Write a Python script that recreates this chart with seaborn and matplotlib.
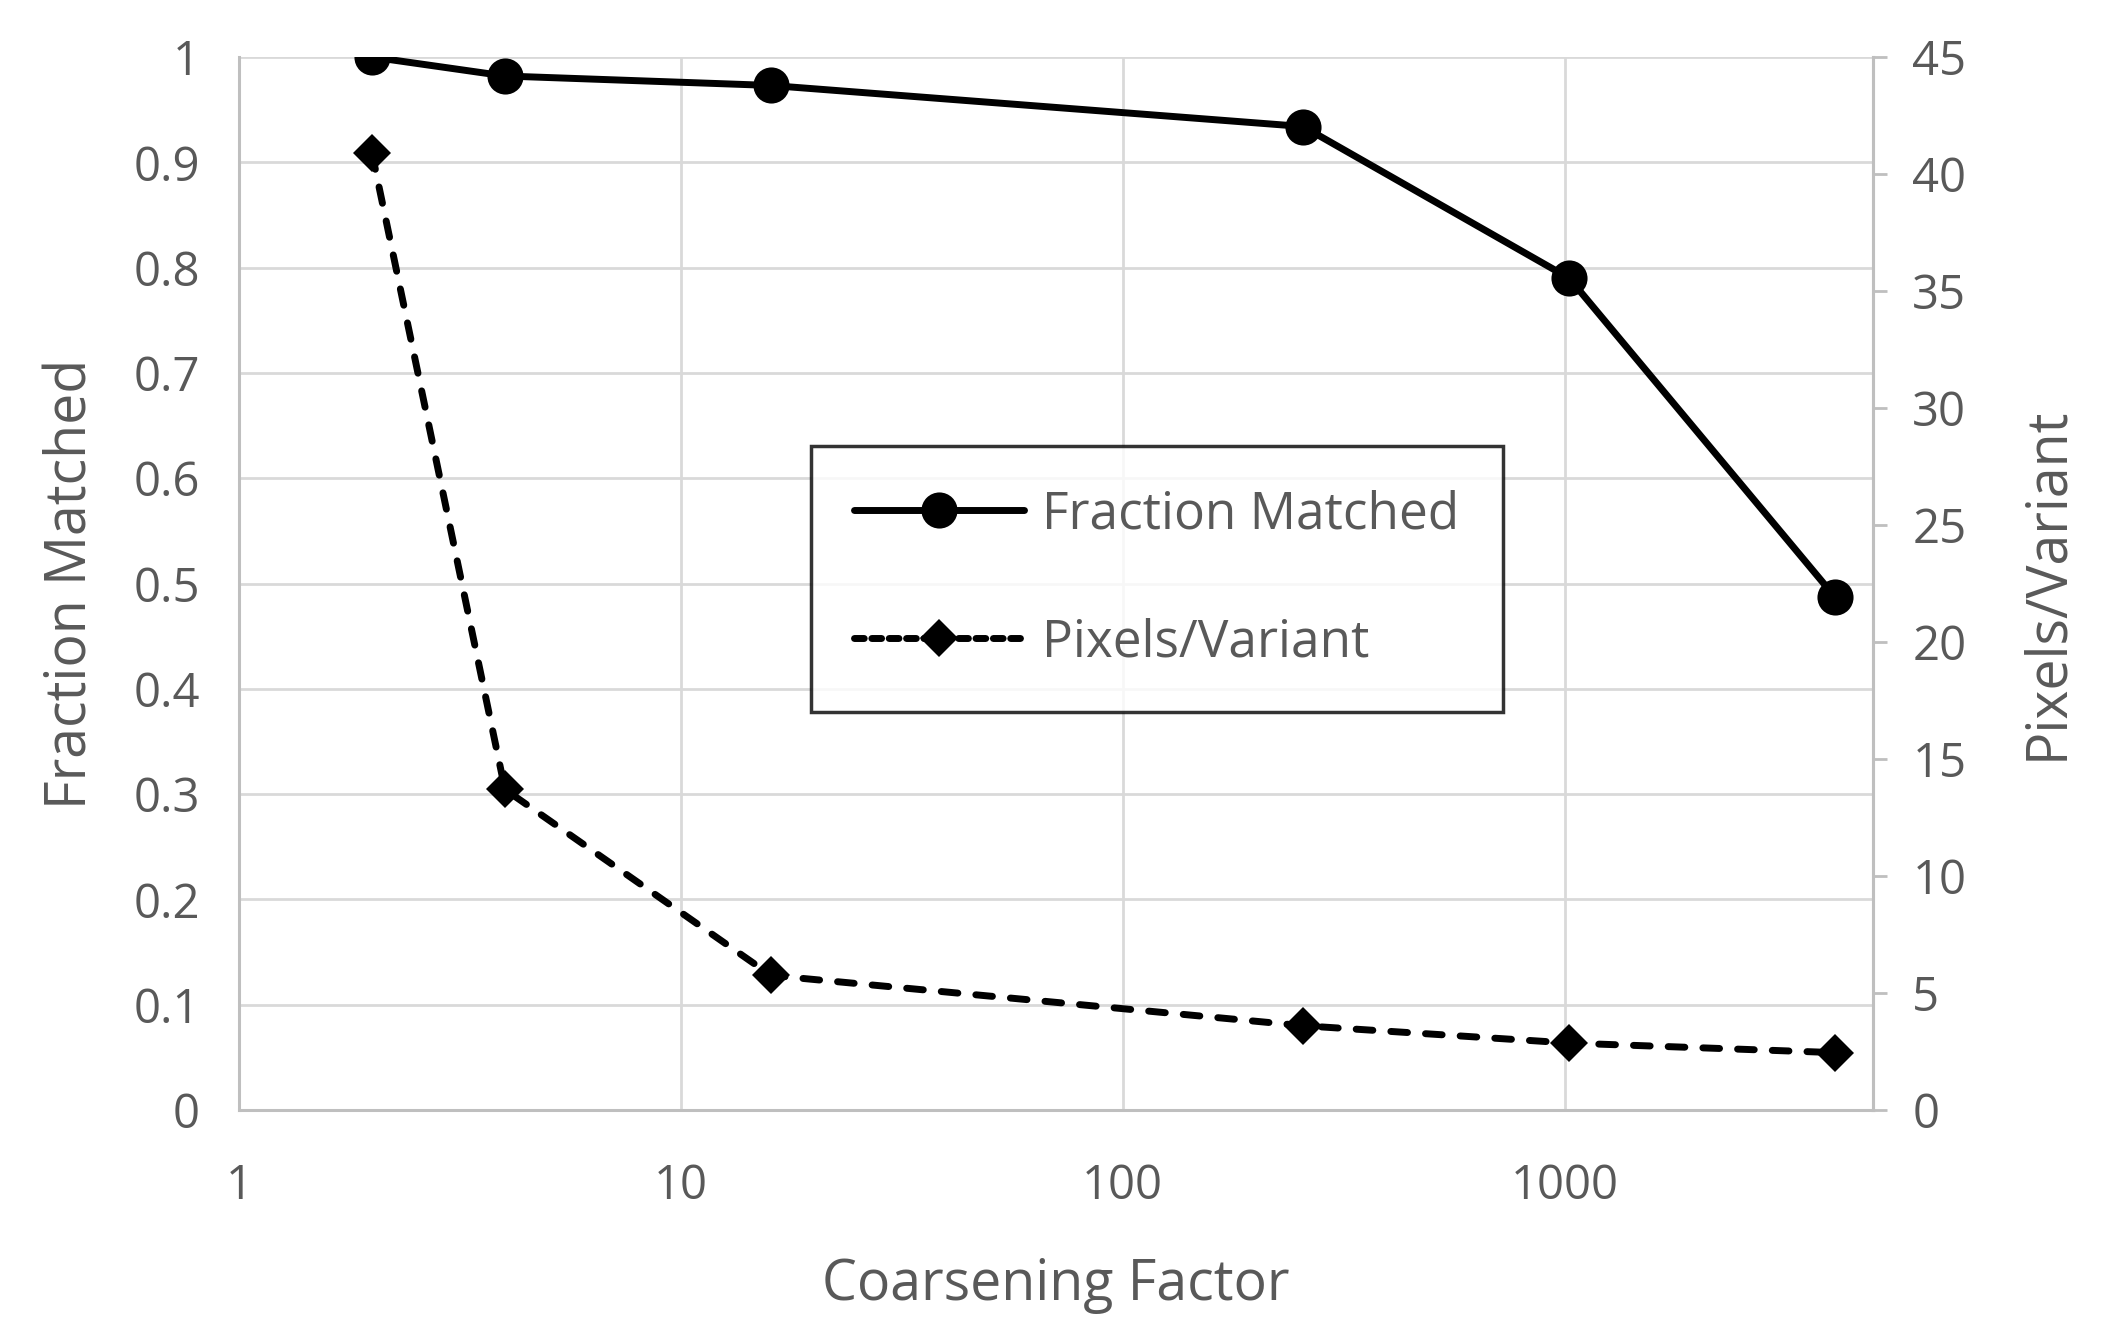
import matplotlib
matplotlib.use("Agg")
import matplotlib.pyplot as plt
import seaborn as sns
import numpy as np
from matplotlib.ticker import FixedLocator, FixedFormatter, NullLocator
from matplotlib.lines import Line2D

# ---- data ----
coarsening = [2, 4, 16, 256, 1024, 4096]
fraction_matched = [1.0, 0.982, 0.973, 0.934, 0.790, 0.487]
pixels_per_variant = [40.9, 13.7, 5.75, 3.6, 2.86, 2.45]
x_ticks = [1, 10, 100, 1000]
x_tick_labels = ["1", "10", "100", "1000"]
left_ticks = [0, 0.1, 0.2, 0.3, 0.4, 0.5, 0.6, 0.7, 0.8, 0.9, 1]
left_tick_labels = ["0", "0.1", "0.2", "0.3", "0.4", "0.5", "0.6", "0.7", "0.8", "0.9", "1"]
right_ticks = [0, 5, 10, 15, 20, 25, 30, 35, 40, 45]

sns.set_theme(style="white")
plt.rcParams['font.family'] = ['Open Sans', 'DejaVu Sans']

TXT = "#595959"
GRID = "#d9d9d9"
SPINE = "#bfbfbf"
LW = 5.0
DASH = (0, (2.4, 2.6))

fig = plt.figure(figsize=(21.05, 13.42), dpi=100)
ax = fig.add_axes([0.1135, 0.1729, 0.7765, 0.7846])
ax2 = ax.twinx()

sns.lineplot(x=coarsening, y=fraction_matched, ax=ax, color="black",
             linewidth=LW, marker="o", markersize=26, markeredgewidth=0,
             zorder=5)
sns.lineplot(x=coarsening, y=pixels_per_variant, ax=ax2, color="black",
             linewidth=LW, marker="D", markersize=19, markeredgewidth=0,
             zorder=5)
l1 = ax.get_lines()[-1]
l1.set_linewidth(LW)
l1.set_solid_capstyle("round")
ln = ax2.get_lines()[-1]
ln.set_linewidth(LW)
ln.set_linestyle(DASH)
ln.set_dash_capstyle("round")

ax.set_xscale("log")
ax.set_xlim(1, 5000)
ax.set_ylim(0, 1)
ax2.set_ylim(0, 45)

ax.xaxis.set_major_locator(FixedLocator(x_ticks))
ax.xaxis.set_major_formatter(FixedFormatter(x_tick_labels))
ax.xaxis.set_minor_locator(NullLocator())
ax.yaxis.set_major_locator(FixedLocator(left_ticks))
ax.yaxis.set_major_formatter(FixedFormatter(left_tick_labels))
ax2.yaxis.set_major_locator(FixedLocator(right_ticks))
ax2.set_yticklabels([str(t) for t in right_ticks])

ax.grid(True, which="major", color=GRID, linewidth=2)
ax.set_axisbelow(True)

for a in (ax, ax2):
    a.spines["top"].set_visible(False)
    for s in ["left", "right", "bottom"]:
        a.spines[s].set_color(SPINE)
        a.spines[s].set_linewidth(2.2)
ax2.spines["left"].set_visible(False)
ax2.spines["bottom"].set_visible(False)

ax.tick_params(axis="x", length=0, pad=38, labelsize=34, labelcolor=TXT)
ax.tick_params(axis="y", length=0, pad=28, labelsize=34, labelcolor=TXT)
ax2.tick_params(axis="y", length=10, width=2, color=SPINE, direction="out",
                pad=18, labelsize=34, labelcolor=TXT)

ax.set_xlabel("Coarsening Factor", fontsize=40, color=TXT, labelpad=34)
ax.set_ylabel("Fraction Matched", fontsize=40, color=TXT, labelpad=24)
ax2.set_ylabel("Pixels/Variant", fontsize=40, color=TXT, labelpad=38)

handles = [
    Line2D([], [], color="black", linewidth=LW, marker="o", markersize=26,
           markeredgewidth=0),
    Line2D([], [], color="black", linewidth=LW, marker="D", markersize=19,
           markeredgewidth=0, linestyle=(0, (1.4, 1.1)), dash_capstyle="round"),
]
leg = ax2.legend(handles, ["Fraction Matched", "Pixels/Variant"],
                 loc="upper left", bbox_to_anchor=(0.3497, 0.631),
                 fontsize=37, frameon=True, fancybox=False,
                 handlelength=3.3, handletextpad=0.35, labelspacing=1.5,
                 borderpad=0.85, borderaxespad=0)
leg.get_frame().set_edgecolor("black")
leg.get_frame().set_linewidth(2.5)
for t in leg.get_texts():
    t.set_color(TXT)
leg.set_zorder(10)

fig.savefig("out.png", dpi=100, facecolor="white")
